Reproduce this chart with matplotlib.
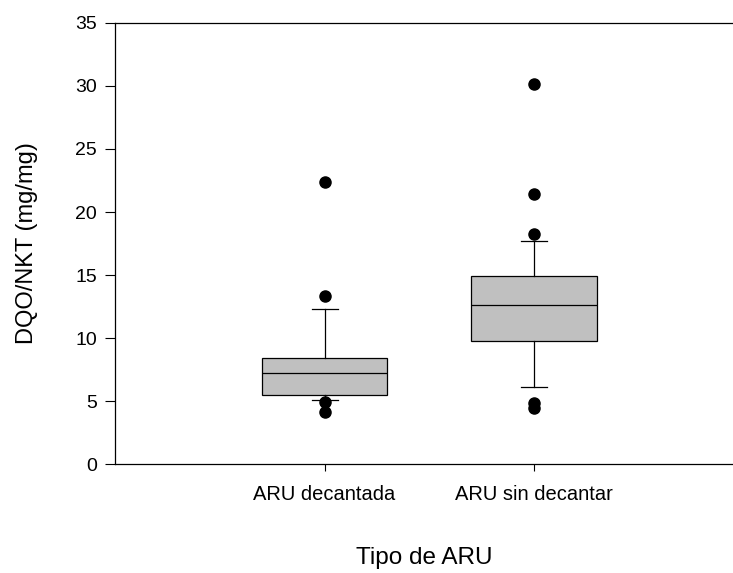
import matplotlib
matplotlib.use("Agg")
import matplotlib.pyplot as plt

plt.rcParams["font.family"] = ["Liberation Sans", "DejaVu Sans"]

# box plot summary
categories = ["ARU decantada", "ARU sin decantar"]
q1 = [5.5, 9.75]
medians = [7.2, 12.6]
q3 = [8.4, 14.9]
whisker_low = [5.05, 6.1]
whisker_high = [12.3, 17.7]
outliers = [[22.4, 13.3, 4.95, 4.15], [30.15, 21.4, 18.25, 4.85, 4.45]]

stats = []
for i, name in enumerate(categories):
    stats.append({
        "label": name,
        "q1": q1[i],
        "med": medians[i],
        "q3": q3[i],
        "whislo": whisker_low[i],
        "whishi": whisker_high[i],
        "fliers": outliers[i],
    })

fig = plt.figure(figsize=(7.33, 5.73), dpi=100)
ax = fig.add_axes([0.157, 0.19, 0.843, 0.77])

ax.bxp(
    stats,
    positions=[1, 2],
    widths=0.6,
    capwidths=0.124,
    patch_artist=True,
    boxprops=dict(facecolor="#c0c0c0", edgecolor="black", linewidth=0.9),
    medianprops=dict(color="black", linewidth=0.9),
    whiskerprops=dict(color="black", linewidth=0.9),
    capprops=dict(color="black", linewidth=0.9),
    flierprops=dict(marker="o", markerfacecolor="black", markeredgecolor="black",
                    markersize=8),
)

ax.set_xlim(0, 2.95)
ax.set_ylim(0, 35)
ax.set_yticks(range(0, 36, 5))
ax.set_xticks([1, 2])
ax.set_xticklabels(categories, fontsize=14.5)
ax.tick_params(axis="y", labelsize=14, direction="out", length=7, width=0.8, pad=6)
ax.tick_params(axis="x", direction="out", length=5, width=0.8, pad=10)
ax.spines["right"].set_visible(False)
for s in ["left", "bottom", "top"]:
    ax.spines[s].set_linewidth(0.9)

ax.set_xlabel("Tipo de ARU", fontsize=17.5, labelpad=31)
ax.set_ylabel("DQO/NKT (mg/mg)", fontsize=17, labelpad=27)

fig.savefig("out.png", dpi=100)
